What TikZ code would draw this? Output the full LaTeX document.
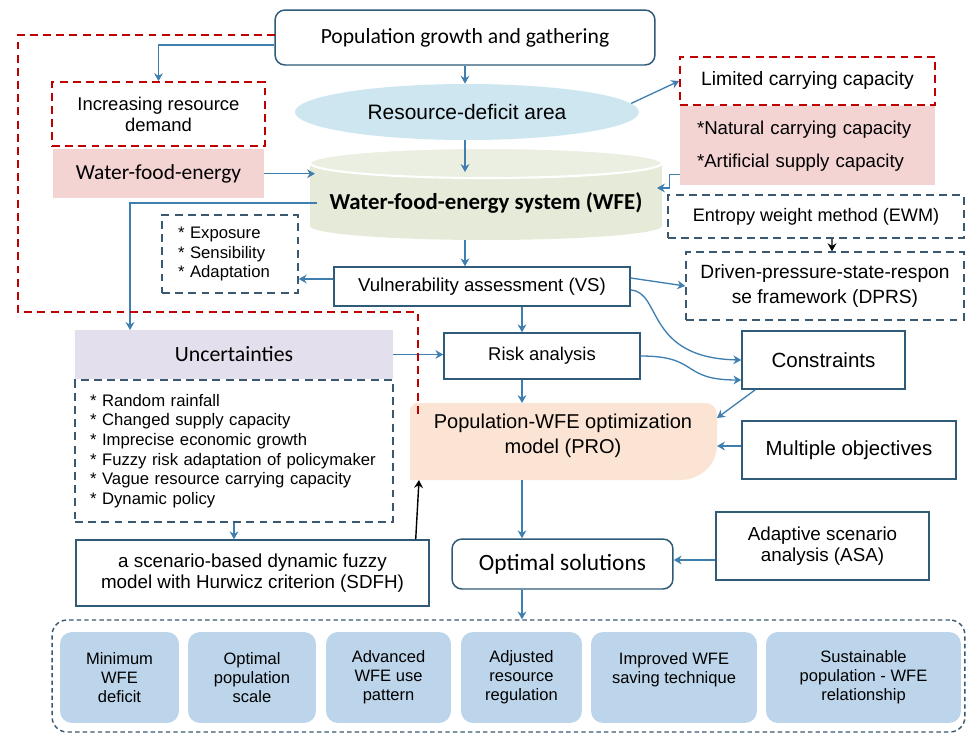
\documentclass[tikz,border=0pt]{standalone}
\usepackage{fontspec}
\setmainfont{Liberation Sans}
\newfontfamily\calfont{Carlito}
\usetikzlibrary{positioning, arrows.meta, shapes.geometric}

\definecolor{boxc}{HTML}{2F5A78}
\definecolor{arrc}{HTML}{3F7FB0}
\definecolor{redc}{HTML}{C00000}
\definecolor{dashc}{HTML}{3A5870}
\definecolor{pinkc}{HTML}{F4D3D3}
\definecolor{areac}{HTML}{CDE6F0}
\definecolor{cylc}{HTML}{E5EBD8}
\definecolor{cyltopc}{HTML}{EBEFE2}
\definecolor{uncc}{HTML}{E4DFEC}
\definecolor{proc}{HTML}{FCE4D4}
\definecolor{outc}{HTML}{BDD5EB}

\begin{document}
\begin{tikzpicture}[x=0.02cm, y=-0.02cm,
	box/.style={rectangle, draw=boxc, line width=0.85pt, align=center, inner sep=0pt},
	rbox/.style={box, rounded corners=0.2cm},
	plain/.style={rectangle, align=center, inner sep=0pt},
	reddash/.style={plain, draw=redc, line width=1pt, dash pattern=on 4.5pt off 3pt},
	bluedash/.style={plain, draw=dashc, line width=0.9pt, dash pattern=on 4.5pt off 3pt},
	outcome/.style={plain, fill=outc, rounded corners=0.24cm, minimum height=1.82cm, font=\fontsize{9.4}{10.8}\selectfont},
	arr/.style={draw=arrc, line width=0.75pt, -{Stealth[length=4.5pt, width=5pt, inset=1.5pt]}},
	blk/.style={draw=black, line width=0.8pt, -{Stealth[length=4.5pt, width=5pt, inset=1.5pt]}}]
	\fill[white] (0,0) rectangle (968,734);
	% top part
	\node[rbox, minimum width=7.6cm, minimum height=1.1cm, font=\calfont\fontsize{12.3}{14}\selectfont] (pop) at (465,37.5) {Population growth and gathering};
	\node[reddash, minimum width=4.26cm, minimum height=1.28cm, font=\fontsize{10.5}{12}\selectfont] (demand) at (158.5,114) {Increasing resource\\demand};
	\node[plain, fill=pinkc, minimum width=4.22cm, minimum height=0.98cm, font=\calfont\fontsize{12.2}{14}\selectfont] (wfepink) [below=0.04cm of demand] {Water-food-energy};
	\node[ellipse, fill=areac, minimum width=6.88cm, minimum height=1.12cm, inner sep=0pt, font=\fontsize{11.9}{14}\selectfont] (deficit) at (467,112) {Resource-deficit area};
	\node[reddash, minimum width=5.1cm, minimum height=0.96cm, font=\fontsize{11}{13}\selectfont] (limited) at (807.5,81) {Limited carrying capacity};
	\node[plain, fill=pinkc, minimum width=5.1cm, minimum height=1.58cm, text width=4.42cm, align=left, font=\fontsize{10.6}{18.8}\selectfont] (natural) [below=0pt of limited] {*Natural carrying capacity\\{}*Artificial supply capacity};
	% cylinder
	\fill[cylc] (310,163) -- (310,226) arc[start angle=180, end angle=360, x radius=3.52cm, y radius=0.28cm] -- (662,163) -- cycle;
	\fill[cyltopc, draw=white, line width=1.2pt] (486,163) ellipse [x radius=3.52cm, y radius=0.3cm];
	\node[plain, font=\calfont\bfseries\fontsize{13}{15}\selectfont] (wfe) at (486,203) {Water-food-energy system (WFE)};
	\coordinate (cyltop) at (465,172);
	\coordinate (cylleft) at (315,173);
	\coordinate (cylright) at (657,188);
	\coordinate (cylout) at (317,203);
	\coordinate (cylbot) at (465,240);
	\coordinate (uncin) at (130,330);
	% middle part
	\node[bluedash, minimum width=2.72cm, minimum height=1.56cm, text width=2.08cm, align=left, font=\fontsize{9.5}{11}\selectfont] (expo) at (230,254) {* Exposure\\{}* Sensibility\\{}* Adaptation};
	\node[box, minimum width=5.92cm, minimum height=0.78cm, font=\fontsize{10.6}{12}\selectfont] (vs) at (482,286.5) {Vulnerability assessment (VS)};
	\node[bluedash, minimum width=5.92cm, minimum height=0.86cm, font=\fontsize{10.3}{12}\selectfont] (ewm) at (816,216.5) {Entropy weight method (EWM)};
	\node[bluedash, minimum width=5.56cm, minimum height=1.36cm, font=\fontsize{10.9}{14.2}\selectfont] (dprs) at (825,286) {Driven-pressure-state-respon\\se framework (DPRS)};
	\node[box, minimum width=3.92cm, minimum height=0.92cm, font=\fontsize{10.5}{12}\selectfont] (risk) at (542,356) {Risk analysis};
	\node[box, minimum width=3.26cm, minimum height=1.16cm, font=\fontsize{11.7}{14}\selectfont] (constr) at (823.5,360) {Constraints};
	\node[box, minimum width=4.28cm, minimum height=1.16cm, font=\fontsize{11.6}{14}\selectfont] (multi) at (849,450) {Multiple objectives};
	\node[plain, fill=uncc, minimum width=6.36cm, minimum height=0.98cm, font=\calfont\fontsize{12.4}{14}\selectfont] (unc) at (234,354.5) {Uncertainties};
	\node[bluedash, minimum width=6.36cm, minimum height=2.84cm, text width=5.76cm, align=left, font=\fontsize{9.5}{11.2}\selectfont] (unclist) [below=0pt of unc] {* Random rainfall\\{}* Changed supply capacity\\{}* Imprecise economic growth\\{}* Fuzzy risk adaptation of policymaker\\{}* Vague resource carrying capacity\\{}* Dynamic policy};
	% optimization model
	\fill[proc] (410,480) -- (410,408) -- (415,403) -- (705,403) .. controls (712,403) and (717,408) .. (717,415) -- (717,445) .. controls (717,465) and (700,480) .. (680,480) -- cycle;
	\node[plain, font=\fontsize{11.4}{14.2}\selectfont] (pro) at (563,436) {Population-WFE optimization\\model (PRO)};
	\coordinate (protop) at (522,403);
	\coordinate (probot) at (522,480);
	\coordinate (prone) at (717,418);
	\coordinate (proe) at (717,446);
	\coordinate (prosw) at (419,480);
	\coordinate (col) at (522,0);
	% lower part
	\node[box, minimum width=7.06cm, minimum height=1.32cm, font=\fontsize{10.7}{11.6}\selectfont] (sdfh) at (252.5,573) {a scenario-based dynamic fuzzy\\model with Hurwicz criterion (SDFH)};
	\node[rbox, minimum width=4.42cm, minimum height=1cm, font=\calfont\fontsize{13.3}{15}\selectfont] (opt) at (562.5,564) {Optimal solutions};
	\node[box, minimum width=4.26cm, minimum height=1.36cm, font=\fontsize{10.7}{12.3}\selectfont] (asa) at (822.5,546) {Adaptive scenario\\analysis (ASA)};
	\node[plain, draw=dashc, line width=0.8pt, dash pattern=on 2.5pt off 1.8pt, rounded corners=0.3cm, minimum width=18.26cm, minimum height=2.24cm] (cont) at (508.5,676) {};
	\node[outcome, minimum width=2.38cm] (o1) at (119.5,677.5) {Minimum\\WFE\\deficit};
	\node[outcome, minimum width=2.56cm] (o2) at (252,677.5) {Optimal\\population\\scale};
	\node[outcome, minimum width=2.5cm] (o3) at (388.5,677.5) {Advanced\\WFE use\\pattern};
	\node[outcome, minimum width=2.42cm] (o4) at (521.5,677.5) {Adjusted\\resource\\regulation};
	\node[outcome, minimum width=3.32cm] (o5) at (674,677.5) {Improved WFE\\saving technique\\\mbox{}};
	\node[outcome, minimum width=3.9cm] (o6) at (863.5,677.5) {Sustainable\\population - WFE\\relationship};
	% connectors
	\draw[arr] ([yshift=-0.15cm]pop.west) -| (demand.north);
	\draw[arr] (pop.south) -- (pop.south |- deficit.north);
	\draw[arr] (deficit.3) -- (limited.west);
	\draw[arr] (cyltop |- deficit.south) -- (cyltop);
	\draw[arr] (wfepink.east) -- (wfepink.east -| cylleft);
	\draw[arr] (natural.south west) ++(0,-11) -- ++(-10,0) |- (cylright);
	\draw[arr] (cylout) -| (uncin);
	\draw[arr] ([yshift=0.15cm]vs.west) coordinate (vsw) -- (vsw -| expo.east);
	\draw[arr] (cylbot) -- (cylbot |- vs.north);
	\draw[arr] ([yshift=0.17cm]vs.east) -- (dprs.west);
	\draw[blk] ([xshift=0.32cm]ewm.south) -- ([xshift=0.14cm]dprs.north);
	\draw[arr] (vs.south -| col) -- (risk.north -| col);
	\draw[arr] ([yshift=-0.07cm]vs.east) .. controls (662,292) and (645,358) .. (constr.west);
	\draw[arr] (risk.east) .. controls (700,356) and (680,380) .. ([yshift=-0.4cm]constr.west);
	\draw[arr] (unc.east) -- (unc.east -| risk.west);
	\draw[arr] (risk.south -| col) -- (protop);
	\draw[arr] ([xshift=0.28cm]constr.south west) -- (prone);
	\draw[arr] (multi.west |- proe) -- (proe);
	\draw[arr] (unclist.south) -- (unclist.south |- sdfh.north);
	\draw[blk] ([xshift=-0.28cm]sdfh.north east) -- (prosw);
	\draw[arr] (probot) -- (col |- opt.north);
	\draw[arr] ([yshift=-0.28cm]asa.west) coordinate (asw) -- (asw -| opt.east);
	\draw[arr] (col |- opt.south) -- (col |- cont.north);
	% red frame
	\draw[redc, line width=1pt, dash pattern=on 4.5pt off 3pt] (275,35) -- (18,35) -- (18,312) -- (418,312) -- (418,417);
\end{tikzpicture}
\end{document}
